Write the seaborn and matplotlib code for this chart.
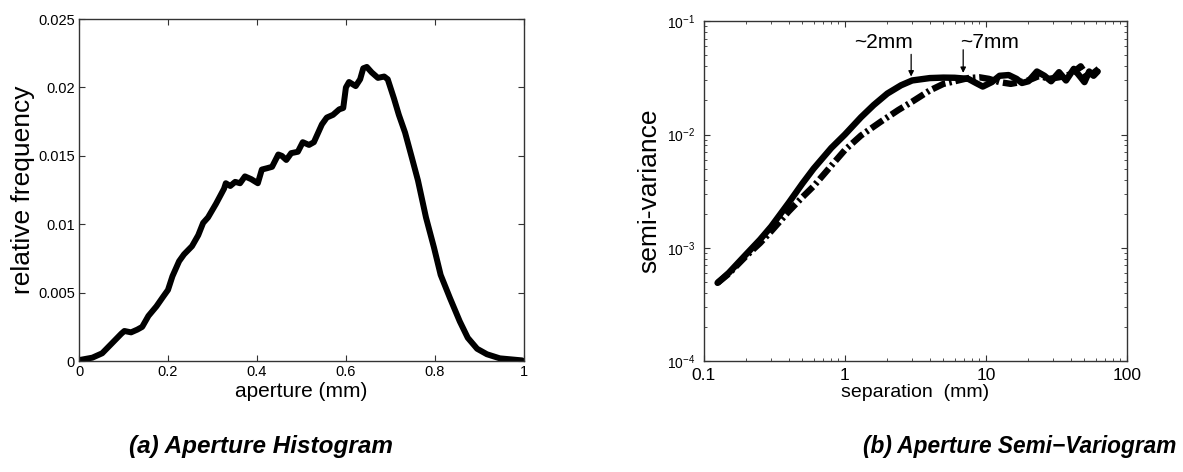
import numpy as np
import pandas as pd
import matplotlib
matplotlib.use("Agg")
import matplotlib.pyplot as plt
import seaborn as sns
from matplotlib.ticker import LogLocator, NullFormatter, FixedLocator, FixedFormatter

# ---------------- data ----------------
aperture = [0.0, 0.03, 0.052, 0.074, 0.095, 0.102, 0.117, 0.131, 0.142, 0.156, 0.174,
            0.189, 0.2, 0.21, 0.225, 0.236, 0.254, 0.268, 0.279, 0.29, 0.308, 0.326,
            0.33, 0.34, 0.351, 0.362, 0.373, 0.387, 0.402, 0.411, 0.423, 0.434, 0.448,
            0.456, 0.466, 0.477, 0.492, 0.503, 0.517, 0.528, 0.546, 0.557, 0.571, 0.585,
            0.594, 0.6, 0.607, 0.622, 0.632, 0.639, 0.647, 0.658, 0.672, 0.686, 0.694,
            0.708, 0.719, 0.733, 0.748, 0.762, 0.78, 0.798, 0.813, 0.834, 0.856, 0.874,
            0.895, 0.917, 0.946, 0.996]
rel_freq = [0.00007, 0.00025, 0.00057, 0.0013, 0.002, 0.0022, 0.0021, 0.0023, 0.0025,
            0.0033, 0.004, 0.0047, 0.0052, 0.0062, 0.0073, 0.0078, 0.0084, 0.0092, 0.0101,
            0.0105, 0.0115, 0.0126, 0.013, 0.0128, 0.0131, 0.013, 0.0135, 0.0133, 0.013,
            0.014, 0.0141, 0.0142, 0.0151, 0.015, 0.0147, 0.0152, 0.0153, 0.016, 0.0158,
            0.016, 0.0173, 0.0178, 0.018, 0.0184, 0.0185, 0.02, 0.0204, 0.0201, 0.0206,
            0.0214, 0.0215, 0.0211, 0.0207, 0.0208, 0.0206, 0.0192, 0.018, 0.0167, 0.0149,
            0.0132, 0.0105, 0.0083, 0.0063, 0.0046, 0.0029, 0.0017, 0.0009, 0.0005,
            0.0002, 0.00005]

sep_solid = [0.125, 0.15, 0.2, 0.25, 0.3, 0.4, 0.5, 0.6, 0.8, 1.0, 1.3, 1.6, 2.0, 2.5,
             3.0, 4.0, 5.0, 6.0, 7.5, 8.5, 9.5, 11, 12.5, 14.5, 16.5, 18, 20, 23, 26, 29,
             33, 37, 42, 47, 50, 54, 58, 62]
gamma_solid = [4.9e-4, 6.0e-4, 8.8e-4, 1.18e-3, 1.54e-3, 2.5e-3, 3.7e-3, 5.0e-3, 7.6e-3,
               1.0e-2, 1.42e-2, 1.82e-2, 2.3e-2, 2.72e-2, 3.0e-2, 3.15e-2, 3.18e-2,
               3.17e-2, 3.1e-2, 2.85e-2, 2.65e-2, 2.9e-2, 3.3e-2, 3.35e-2, 3.1e-2,
               2.85e-2, 2.95e-2, 3.6e-2, 3.3e-2, 2.95e-2, 3.55e-2, 3.0e-2, 3.8e-2,
               3.2e-2, 2.9e-2, 3.6e-2, 3.3e-2, 3.6e-2]

sep_dash = [0.125, 0.15, 0.2, 0.25, 0.3, 0.4, 0.5, 0.6, 0.8, 1.0, 1.3, 1.8, 2.4, 3.0,
            4.0, 5.0, 6.0, 7.5, 9, 10.5, 12.5, 15, 17.5, 20, 24, 28, 33, 40, 47, 52,
            58, 63]
gamma_dash = [4.9e-4, 5.9e-4, 8.5e-4, 1.1e-3, 1.4e-3, 2.1e-3, 2.8e-3, 3.5e-3, 5.3e-3,
              7.3e-3, 9.8e-3, 1.3e-2, 1.65e-2, 1.95e-2, 2.45e-2, 2.8e-2, 2.95e-2,
              3.15e-2, 3.2e-2, 3.1e-2, 2.9e-2, 2.8e-2, 2.9e-2, 3.0e-2, 3.3e-2, 3.1e-2,
              3.2e-2, 3.4e-2, 4.0e-2, 3.3e-2, 3.5e-2, 3.8e-2]

hist_xticks = [0, 0.2, 0.4, 0.6, 0.8, 1]
hist_xticklabels = ["0", "0.2", "0.4", "0.6", "0.8", "1"]
hist_yticks = [0, 0.005, 0.01, 0.015, 0.02, 0.025]
hist_yticklabels = ["0", "0.005", "0.01", "0.015", "0.02", "0.025"]
var_xticks = [0.1, 1, 10, 100]
var_xticklabels = ["0.1", "1", "10", "100"]

# ---------------- style ----------------
sns.set_style("ticks")
plt.rcParams["font.family"] = ["Liberation Sans", "DejaVu Sans"]
plt.rcParams.update({
    "xtick.direction": "in", "ytick.direction": "in",
    "xtick.top": True, "ytick.right": True,
    "xtick.major.size": 4, "ytick.major.size": 4,
    "xtick.minor.size": 2, "ytick.minor.size": 2,
    "axes.linewidth": 1.0, "axes.edgecolor": "#333333",
    "xtick.color": "#333333", "ytick.color": "#333333",
    "xtick.labelcolor": "black", "ytick.labelcolor": "black",
    "text.color": "black", "axes.labelcolor": "black",
})

fig = plt.figure(figsize=(11.83, 4.72), dpi=100)
ax1 = fig.add_axes([0.0668, 0.235, 0.376, 0.7246])
ax2 = fig.add_axes([0.595, 0.235, 0.3576, 0.720])

# ---------------- left: histogram ----------------
df_h = pd.DataFrame({"aperture": aperture, "freq": rel_freq})
sns.lineplot(data=df_h, x="aperture", y="freq", ax=ax1, color="black", lw=4.3,
             estimator=None, sort=False)
ax1.set_xlim(0, 1)
ax1.set_ylim(0, 0.025)
ax1.xaxis.set_major_locator(FixedLocator(hist_xticks))
ax1.xaxis.set_major_formatter(FixedFormatter(hist_xticklabels))
ax1.yaxis.set_major_locator(FixedLocator(hist_yticks))
ax1.yaxis.set_major_formatter(FixedFormatter(hist_yticklabels))
ax1.tick_params(labelsize=10.5, pad=3)
ax1.set_xlabel("aperture (mm)", fontsize=15, labelpad=2)
ax1.set_ylabel("relative frequency", fontsize=19, labelpad=2)

# ---------------- right: semi-variogram ----------------
df_s = pd.DataFrame({"sep": sep_solid, "gamma": gamma_solid})
df_d = pd.DataFrame({"sep": sep_dash, "gamma": gamma_dash})
sns.lineplot(data=df_d, x="sep", y="gamma", ax=ax2, color="black", lw=4.6,
             linestyle=(0, (2.2, 0.6, 0.4, 0.6)), estimator=None, sort=False)
sns.lineplot(data=df_s, x="sep", y="gamma", ax=ax2, color="black", lw=4.6,
             estimator=None, sort=False)
ax2.set_xscale("log")
ax2.set_yscale("log")
ax2.set_xlim(0.1, 100)
ax2.set_ylim(1e-4, 1e-1)
ax2.xaxis.set_major_locator(FixedLocator(var_xticks))
ax2.xaxis.set_major_formatter(FixedFormatter(var_xticklabels))
ax2.xaxis.set_minor_locator(LogLocator(base=10, subs=np.arange(2, 10)))
ax2.xaxis.set_minor_formatter(NullFormatter())
ax2.yaxis.set_major_locator(LogLocator(base=10, numticks=10))
ax2.yaxis.set_minor_locator(LogLocator(base=10, subs=np.arange(2, 10), numticks=10))
ax2.yaxis.set_minor_formatter(NullFormatter())
ax2.tick_params(axis="x", labelsize=12.5, pad=5)
ax2.tick_params(axis="y", labelsize=10, pad=6)
ax2.set_xlabel("separation  (mm)", fontsize=14, labelpad=1)
ax2.set_ylabel("semi-variance", fontsize=19, labelpad=4)

arrow = dict(arrowstyle="-|>", color="black", lw=0.9, mutation_scale=8,
             shrinkA=0, shrinkB=0)
ax2.annotate("", xy=(2.95, 3.25e-2), xytext=(2.95, 5.1e-2), arrowprops=arrow)
ax2.text(3.05, 5.3e-2, "~2mm", fontsize=15, ha="right", va="bottom")
ax2.annotate("", xy=(6.9, 3.5e-2), xytext=(6.9, 5.6e-2), arrowprops=arrow)
ax2.text(6.6, 5.3e-2, "~7mm", fontsize=15, ha="left", va="bottom")

# ---------------- captions ----------------
fig.text(0.221, 0.053, "(a) Aperture Histogram", ha="center", va="center",
         fontsize=17.5, fontweight="bold", fontstyle="italic")
fig.text(0.862, 0.053, "(b) Aperture Semi\u2212Variogram", ha="center", va="center",
         fontsize=16.3, fontweight="bold", fontstyle="italic")

fig.savefig("out.png", dpi=100)
